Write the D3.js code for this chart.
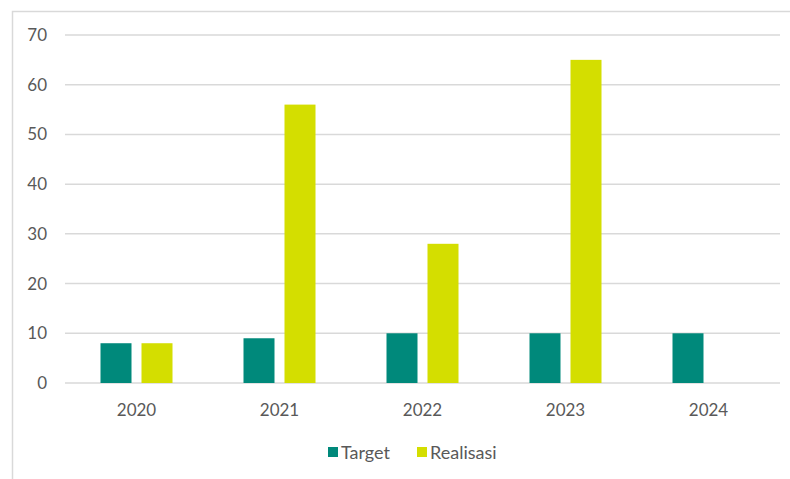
<!DOCTYPE html>
<html>
<head>
<meta charset="utf-8">
<script src="https://cdn.jsdelivr.net/npm/d3@7"></script>
<style>
  body { margin: 0; background: #fff; }
  svg { display: block; }
</style>
</head>
<body>
<svg id="chart"></svg>
<script>
const years = ['2020', '2021', '2022', '2023', '2024'];
const target = [8, 9, 10, 10, 10];
const realisasi = [8, 56, 28, 65, null];
const yTicks = [0, 10, 20, 30, 40, 50, 60, 70];
const seriesNames = ['Target', 'Realisasi'];
const colors = ['#00897b', '#d4de00'];

const W = 790, H = 479;
const plotLeft = 65, plotRight = 780, plotTop = 35, plotBottom = 383;

const svg = d3.select('#chart')
  .attr('width', W)
  .attr('height', H)
  .style('font-family', 'Lato, "Open Sans", sans-serif');

// chart frame
svg.append('rect')
  .attr('x', 12.5).attr('y', 11.5)
  .attr('width', 800).attr('height', 500)
  .attr('fill', 'none')
  .attr('stroke', '#d9d9d9')
  .attr('stroke-width', 1.5);

const x = d3.scaleBand().domain(years).range([plotLeft, plotRight]);
const y = d3.scaleLinear().domain([0, 70]).range([plotBottom, plotTop]);

// gridlines
svg.append('g')
  .selectAll('line')
  .data(yTicks)
  .enter()
  .append('line')
  .attr('x1', plotLeft).attr('x2', plotRight)
  .attr('y1', d => y(d)).attr('y2', d => y(d))
  .attr('stroke', '#d9d9d9')
  .attr('stroke-width', 1.5);

// y labels
svg.append('g')
  .selectAll('text')
  .data(yTicks)
  .enter()
  .append('text')
  .attr('x', 47)
  .attr('y', d => y(d))
  .attr('dy', '0.35em')
  .attr('text-anchor', 'end')
  .attr('fill', '#595959')
  .style('font-size', '17px')
  .text(d => d);

// x labels
svg.append('g')
  .selectAll('text')
  .data(years)
  .enter()
  .append('text')
  .attr('x', d => x(d) + x.bandwidth() / 2)
  .attr('y', 416)
  .attr('text-anchor', 'middle')
  .attr('fill', '#595959')
  .style('font-size', '17px')
  .text(d => d);

// bars: 31px wide, 10px gap
const barW = 31, gap = 10;
const inner = d3.scaleOrdinal().domain(seriesNames)
  .range([-gap / 2 - barW, gap / 2]);

const rows = years.map((yr, i) => ({ yr, vals: [target[i], realisasi[i]] }));

const groups = svg.append('g')
  .selectAll('g')
  .data(rows)
  .enter()
  .append('g')
  .attr('transform', d => `translate(${x(d.yr) + x.bandwidth() / 2},0)`);

groups.selectAll('rect')
  .data(d => d.vals.map((v, j) => ({ v, name: seriesNames[j], j })).filter(e => e.v != null))
  .enter()
  .append('rect')
  .attr('x', d => inner(d.name))
  .attr('y', d => y(d.v))
  .attr('width', barW)
  .attr('height', d => y(0) - y(d.v))
  .attr('fill', d => colors[d.j]);

// legend
const legend = svg.append('g');
const legendPos = [328, 417];
seriesNames.forEach((name, i) => {
  legend.append('rect')
    .attr('x', legendPos[i]).attr('y', 447)
    .attr('width', 10).attr('height', 10)
    .attr('fill', colors[i]);
  legend.append('text')
    .attr('x', legendPos[i] + 13).attr('y', 459)
    .attr('fill', '#595959')
    .style('font-size', '18px')
    .text(name);
});
</script>
</body>
</html>
